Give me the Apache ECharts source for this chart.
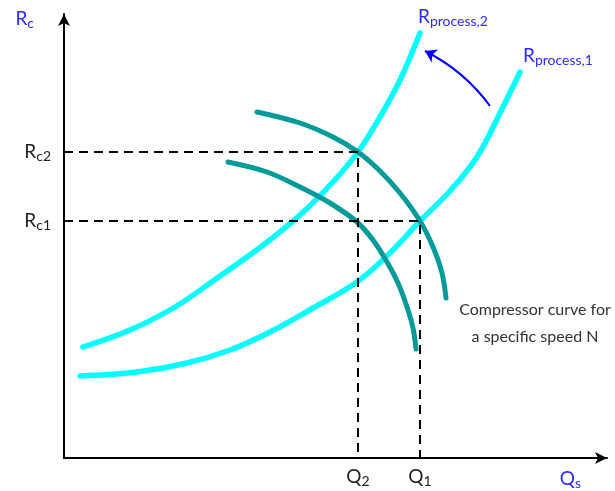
<!DOCTYPE html>
<html>
<head>
<meta charset="utf-8">
<script src="https://cdn.jsdelivr.net/npm/echarts@6/dist/echarts.min.js"></script>
<style>
  html, body { margin: 0; padding: 0; background: #fff; }
  #chart { width: 615px; height: 491px; }
</style>
</head>
<body>
<div id="chart"></div>
<script>
// operating points (flow Q, pressure ratio Rc), arbitrary units
var qTicks = [294, 356];          // Q2, Q1
var qSubs = ['2', '1'];
var rcTicks = [306, 237];         // Rc2, Rc1
var rcSubs = ['c2', 'c1'];

// process resistance curves
var process2 = [[19, 111], [66, 128], [111, 151], [156, 182], [198, 212], [236, 243], [268, 275], [294, 306], [316, 341], [336, 378], [356, 425]];
var process1 = [[16, 82], [73, 86], [123, 95], [166, 108], [206, 126], [249, 150], [293, 176], [326, 205], [356, 237], [386, 267], [413, 301], [436, 345], [456, 386]];

// compressor curves for a given speed
var compUpper = [[193, 346], [236, 335], [269, 321], [294, 306], [316, 287], [336, 265], [356, 237], [369, 211], [378, 185], [382, 160]];
var compLower = [[164, 296], [203, 286], [236, 271], [266, 255], [293, 236], [309, 218], [323, 196], [334, 175], [343, 151], [349, 130], [352, 109]];

// shift arrow from process 1 to process 2
var shiftArrow = [[426, 352], [361, 407]];

var font = 'Lato, "Open Sans", sans-serif';
var subRich = {
  m: { fontSize: 19, fontFamily: font, color: '#222' },
  s: { fontSize: 14, fontFamily: font, color: '#222', padding: [9, 0, 0, 0] }
};
var blueRich = {
  m: { fontSize: 19, fontFamily: font, color: '#2b2bff' },
  s: { fontSize: 14, fontFamily: font, color: '#2b2bff', padding: [9, 0, 0, 0] }
};

var chart = echarts.init(document.getElementById('chart'));
chart.setOption({
  animation: false,
  grid: { left: 64, right: 8, top: 14, bottom: 33 },
  xAxis: {
    type: 'value', min: 0, max: 543,
    name: '{m|Q}{s|s}',
    nameLocation: 'end',
    nameGap: -26,
    nameTextStyle: { align: 'right', verticalAlign: 'top', padding: [9, 0, 0, 0], rich: blueRich },
    axisLine: { show: true, symbol: ['none', 'arrow'], symbolSize: [9, 12], lineStyle: { color: '#000', width: 2 } },
    axisTick: { show: false },
    splitLine: { show: false },
    axisLabel: {
      customValues: qTicks,
      margin: 7,
      formatter: function (v) { return '{m|Q}{s|' + qSubs[qTicks.indexOf(Math.round(v))] + '}'; },
      rich: subRich
    }
  },
  yAxis: {
    type: 'value', min: 0, max: 444,
    name: '{m|R}{s|c}',
    nameLocation: 'end',
    nameGap: 7,
    nameTextStyle: { align: 'right', verticalAlign: 'top', padding: [0, 30, 0, 0], rich: blueRich },
    axisLine: { show: true, symbol: ['none', 'arrow'], symbolSize: [9, 12], lineStyle: { color: '#000', width: 2 } },
    axisTick: { show: false },
    splitLine: { show: false },
    axisLabel: {
      customValues: rcTicks,
      margin: 13,
      formatter: function (v) { return '{m|R}{s|' + rcSubs[rcTicks.indexOf(Math.round(v))] + '}'; },
      rich: subRich
    }
  },
  series: [
    {
      type: 'line', data: process2, smooth: 0.35, symbol: 'none', z: 2,
      lineStyle: { color: '#00ffff', width: 5.5, cap: 'round' },
      endLabel: { show: true, formatter: '{m|R}{s|process,2}', offset: [-10, -16], rich: blueRich }
    },
    {
      type: 'line', data: process1, smooth: 0.35, symbol: 'none', z: 2,
      lineStyle: { color: '#00ffff', width: 5.5, cap: 'round' },
      endLabel: { show: true, formatter: '{m|R}{s|process,1}', offset: [-5, -16], rich: blueRich }
    },
    {
      type: 'line', data: compUpper, smooth: 0.35, symbol: 'none', z: 3,
      lineStyle: { color: '#009a98', width: 5, cap: 'round' },
      endLabel: {
        show: true,
        formatter: '{c|Compressor curve for}\n{c|a specific speed N}',
        offset: [1, 25],
        rich: { c: { width: 160, align: 'center', fontSize: 16, lineHeight: 27, fontFamily: font, color: '#333' } }
      }
    },
    {
      type: 'line', data: compLower, smooth: 0.35, symbol: 'none', z: 3,
      lineStyle: { color: '#009a98', width: 5, cap: 'round' }
    },
    {
      type: 'line', data: [[0, rcTicks[0]], [qTicks[0], rcTicks[0]], [qTicks[0], 0]], symbol: 'none', z: 4,
      lineStyle: { color: '#000', width: 2, type: [9, 6] }
    },
    {
      type: 'line', data: [[0, rcTicks[1]], [qTicks[1], rcTicks[1]], [qTicks[1], 0]], symbol: 'none', z: 4,
      lineStyle: { color: '#000', width: 2, type: [9, 6] }
    },
    {
      type: 'lines', coordinateSystem: 'cartesian2d', z: 5,
      symbol: ['none', 'arrow'], symbolSize: [8, 11],
      lineStyle: { color: '#0000ff', width: 2, curveness: -0.12, opacity: 1 },
      data: [{ coords: shiftArrow }]
    }
  ]
});
</script>
</body>
</html>
